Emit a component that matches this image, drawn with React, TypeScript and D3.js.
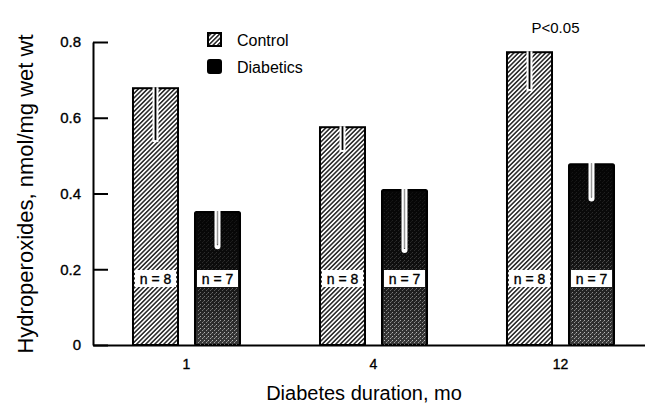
import React, { useEffect, useRef } from "react";
import * as d3 from "d3";

const durations = ["1", "4", "12"];
const groups = ["Control", "Diabetics"];
const controlMeans = [0.678, 0.575, 0.773];
const controlSE = [0.137, 0.06, 0.097];
const diabeticMeans = [0.351, 0.409, 0.477];
const diabeticSE = [0.09, 0.158, 0.09];
const controlN = [8, 8, 8];
const diabeticN = [7, 7, 7];
const yTicks = [0, 0.2, 0.4, 0.6, 0.8];

const FONT = "'Liberation Sans', Arial, Helvetica, sans-serif";

const App = () => {
  const ref = useRef(null);

  useEffect(() => {
    if (!ref.current) return;
    const svg = d3.select(ref.current);
    svg.selectAll("*").remove();

    const width = 645;
    const height = 404;
    const left = 93;
    const bottom = 345;
    const top = 42;

    svg.attr("width", width).attr("height", height);

    // patterns
    const defs = svg.append("defs");
    const hatch = defs
      .append("pattern")
      .attr("id", "hatch")
      .attr("patternUnits", "userSpaceOnUse")
      .attr("width", 3.2)
      .attr("height", 3.2)
      .attr("patternTransform", "rotate(45)");
    hatch.append("rect").attr("width", 3.2).attr("height", 3.2).attr("fill", "#fff");
    hatch
      .append("line")
      .attr("x1", 0.8)
      .attr("x2", 0.8)
      .attr("y1", 0)
      .attr("y2", 3.2)
      .attr("stroke", "#111")
      .attr("stroke-width", 1.4);

    const grad = defs
      .append("linearGradient")
      .attr("id", "darkgrad")
      .attr("x1", 0)
      .attr("x2", 0)
      .attr("y1", 0)
      .attr("y2", 1);
    grad.append("stop").attr("offset", "0%").attr("stop-color", "#050505");
    grad.append("stop").attr("offset", "45%").attr("stop-color", "#0d0d0d");
    grad.append("stop").attr("offset", "100%").attr("stop-color", "#3a3a3a");

    const dots = defs
      .append("pattern")
      .attr("id", "dots")
      .attr("patternUnits", "userSpaceOnUse")
      .attr("width", 4)
      .attr("height", 4);
    dots.append("rect").attr("x", 0).attr("y", 0).attr("width", 1).attr("height", 1).attr("fill", "#ddd");
    dots.append("rect").attr("x", 2).attr("y", 2).attr("width", 1).attr("height", 1).attr("fill", "#bbb");
    dots.append("rect").attr("x", 3).attr("y", 1).attr("width", 1).attr("height", 1).attr("fill", "#888");

    const maskGrad = defs
      .append("linearGradient")
      .attr("id", "maskgrad")
      .attr("x1", 0)
      .attr("x2", 0)
      .attr("y1", 0)
      .attr("y2", 1);
    maskGrad.append("stop").attr("offset", "0%").attr("stop-color", "#111");
    maskGrad.append("stop").attr("offset", "40%").attr("stop-color", "#333");
    maskGrad.append("stop").attr("offset", "100%").attr("stop-color", "#ddd");
    defs
      .append("mask")
      .attr("id", "dotmask")
      .attr("maskContentUnits", "objectBoundingBox")
      .append("rect")
      .attr("width", 1)
      .attr("height", 1)
      .attr("fill", "url(#maskgrad)");

    // scales
    const x = d3.scaleBand().domain(durations).range([left, 654]).padding(0);
    const xInner = d3
      .scaleBand()
      .domain(groups)
      .range([0, x.bandwidth()])
      .paddingInner(0.274)
      .paddingOuter(0.645);
    const y = d3.scaleLinear().domain([0, 0.8]).range([bottom, top]);

    const bars = [];
    durations.forEach((d, i) => {
      bars.push({ dur: d, group: "Control", v: controlMeans[i], se: controlSE[i], n: controlN[i] });
      bars.push({ dur: d, group: "Diabetics", v: diabeticMeans[i], se: diabeticSE[i], n: diabeticN[i] });
    });

    const bw = xInner.bandwidth();
    const g = svg.selectAll(".bar").data(bars).enter().append("g").attr("class", "bar");

    g.each(function (d) {
      const sel = d3.select(this);
      const x0 = x(d.dur) + xInner(d.group);
      const y0 = y(d.v);
      const h = y(0) - y0;
      const cx = x0 + bw / 2;
      if (d.group === "Control") {
        sel
          .append("rect")
          .attr("x", x0)
          .attr("y", y0)
          .attr("width", bw)
          .attr("height", h)
          .attr("fill", "url(#hatch)")
          .attr("stroke", "#000")
          .attr("stroke-width", 2);
      } else {
        sel
          .append("rect")
          .attr("x", x0)
          .attr("y", y0)
          .attr("width", bw)
          .attr("height", h)
          .attr("rx", 1.5)
          .attr("fill", "url(#darkgrad)")
          .attr("stroke", "#000")
          .attr("stroke-width", 2);
        sel
          .append("rect")
          .attr("x", x0 + 2)
          .attr("y", y0 + 2)
          .attr("width", bw - 4)
          .attr("height", h - 2)
          .attr("fill", "url(#dots)")
          .attr("mask", "url(#dotmask)");
      }

      // error bar drawn down into the bar
      const yErr = y(d.v - d.se);
      if (d.group === "Control") {
        sel
          .append("line")
          .attr("x1", cx)
          .attr("x2", cx)
          .attr("y1", y0 - 1)
          .attr("y2", yErr + 2)
          .attr("stroke", "#fff")
          .attr("stroke-width", 6);
        sel
          .append("line")
          .attr("x1", cx)
          .attr("x2", cx)
          .attr("y1", y0 - 1)
          .attr("y2", yErr)
          .attr("stroke", "#000")
          .attr("stroke-width", 1.8);
      } else {
        sel
          .append("line")
          .attr("x1", cx)
          .attr("x2", cx)
          .attr("y1", y0 - 1)
          .attr("y2", yErr)
          .attr("stroke", "#fff")
          .attr("stroke-width", 6)
          .attr("stroke-linecap", "round");
        sel
          .append("line")
          .attr("x1", cx)
          .attr("x2", cx)
          .attr("y1", y0 - 1)
          .attr("y2", yErr - 1)
          .attr("stroke", "#000")
          .attr("stroke-width", 1.2);
        sel
          .append("line")
          .attr("x1", cx)
          .attr("x2", cx)
          .attr("y1", y0 - 1)
          .attr("y2", yErr - 1.5)
          .attr("stroke", "#fff")
          .attr("stroke-width", 0.6);
      }

      // n label
      sel
        .append("rect")
        .attr("x", x0 + 2)
        .attr("y", 270)
        .attr("width", bw - 4)
        .attr("height", 17)
        .attr("fill", "#fff");
      sel
        .append("text")
        .attr("x", cx)
        .attr("y", 283.5)
        .attr("text-anchor", "middle")
        .attr("font-family", FONT)
        .attr("font-size", 14)
        .attr("fill", "#000")
        .attr("stroke", "#000")
        .attr("stroke-width", 0.35)
        .text(`n = ${d.n}`);
    });

    // axes
    const yAxis = svg
      .append("g")
      .attr("transform", `translate(${left},0)`)
      .call(
        d3
          .axisLeft(y)
          .tickValues(yTicks)
          .tickSizeInner(-15)
          .tickSizeOuter(0)
          .tickPadding(12)
          .tickFormat((t) => (t === 0 ? "0" : d3.format(".1f")(t)))
      );
    yAxis.select(".domain").attr("stroke-width", 2);
    yAxis.selectAll(".tick line").attr("stroke-width", 2);
    yAxis
      .selectAll(".tick text")
      .attr("font-family", FONT)
      .attr("font-size", 15)
      .attr("fill", "#000")
      .attr("stroke", "#000")
      .attr("stroke-width", 0.35);

    const xAxis = svg
      .append("g")
      .attr("transform", `translate(0,${bottom})`)
      .call(d3.axisBottom(x).tickSize(0).tickPadding(14));
    xAxis.select(".domain").attr("stroke-width", 2);
    xAxis
      .selectAll(".tick text")
      .attr("font-family", FONT)
      .attr("font-size", 14)
      .attr("fill", "#000")
      .attr("stroke", "#000")
      .attr("stroke-width", 0.35);

    // axis titles
    svg
      .append("text")
      .attr("transform", "translate(33,194) rotate(-90)")
      .attr("text-anchor", "middle")
      .attr("font-family", FONT)
      .attr("font-size", 22)
      .text("Hydroperoxides, nmol/mg wet wt");
    svg
      .append("text")
      .attr("x", 364)
      .attr("y", 400)
      .attr("text-anchor", "middle")
      .attr("font-family", FONT)
      .attr("font-size", 20)
      .text("Diabetes duration, mo");

    // legend
    const legend = svg.append("g").attr("transform", "translate(207,32)");
    groups.forEach((name, i) => {
      const row = legend.append("g").attr("transform", `translate(0,${i * 27})`);
      row
        .append("rect")
        .attr("x", 1)
        .attr("y", 1)
        .attr("width", 13)
        .attr("height", 13)
        .attr("rx", name === "Control" ? 0 : 2)
        .attr("fill", name === "Control" ? "url(#hatch)" : "#000")
        .attr("stroke", "#000")
        .attr("stroke-width", 2);
      row
        .append("text")
        .attr("x", 30)
        .attr("y", 14)
        .attr("font-family", FONT)
        .attr("font-size", 16)
        .text(name);
    });

    // significance note
    svg
      .append("text")
      .attr("x", x("12") + x.bandwidth() / 2 - 5)
      .attr("y", 33)
      .attr("text-anchor", "middle")
      .attr("font-family", FONT)
      .attr("font-size", 15)
      .text("P<0.05");
  }, []);

  return (
    <svg
      ref={ref}
      style={{ position: "absolute", left: 0, top: 0, background: "#fff" }}
    />
  );
};

export default App;
